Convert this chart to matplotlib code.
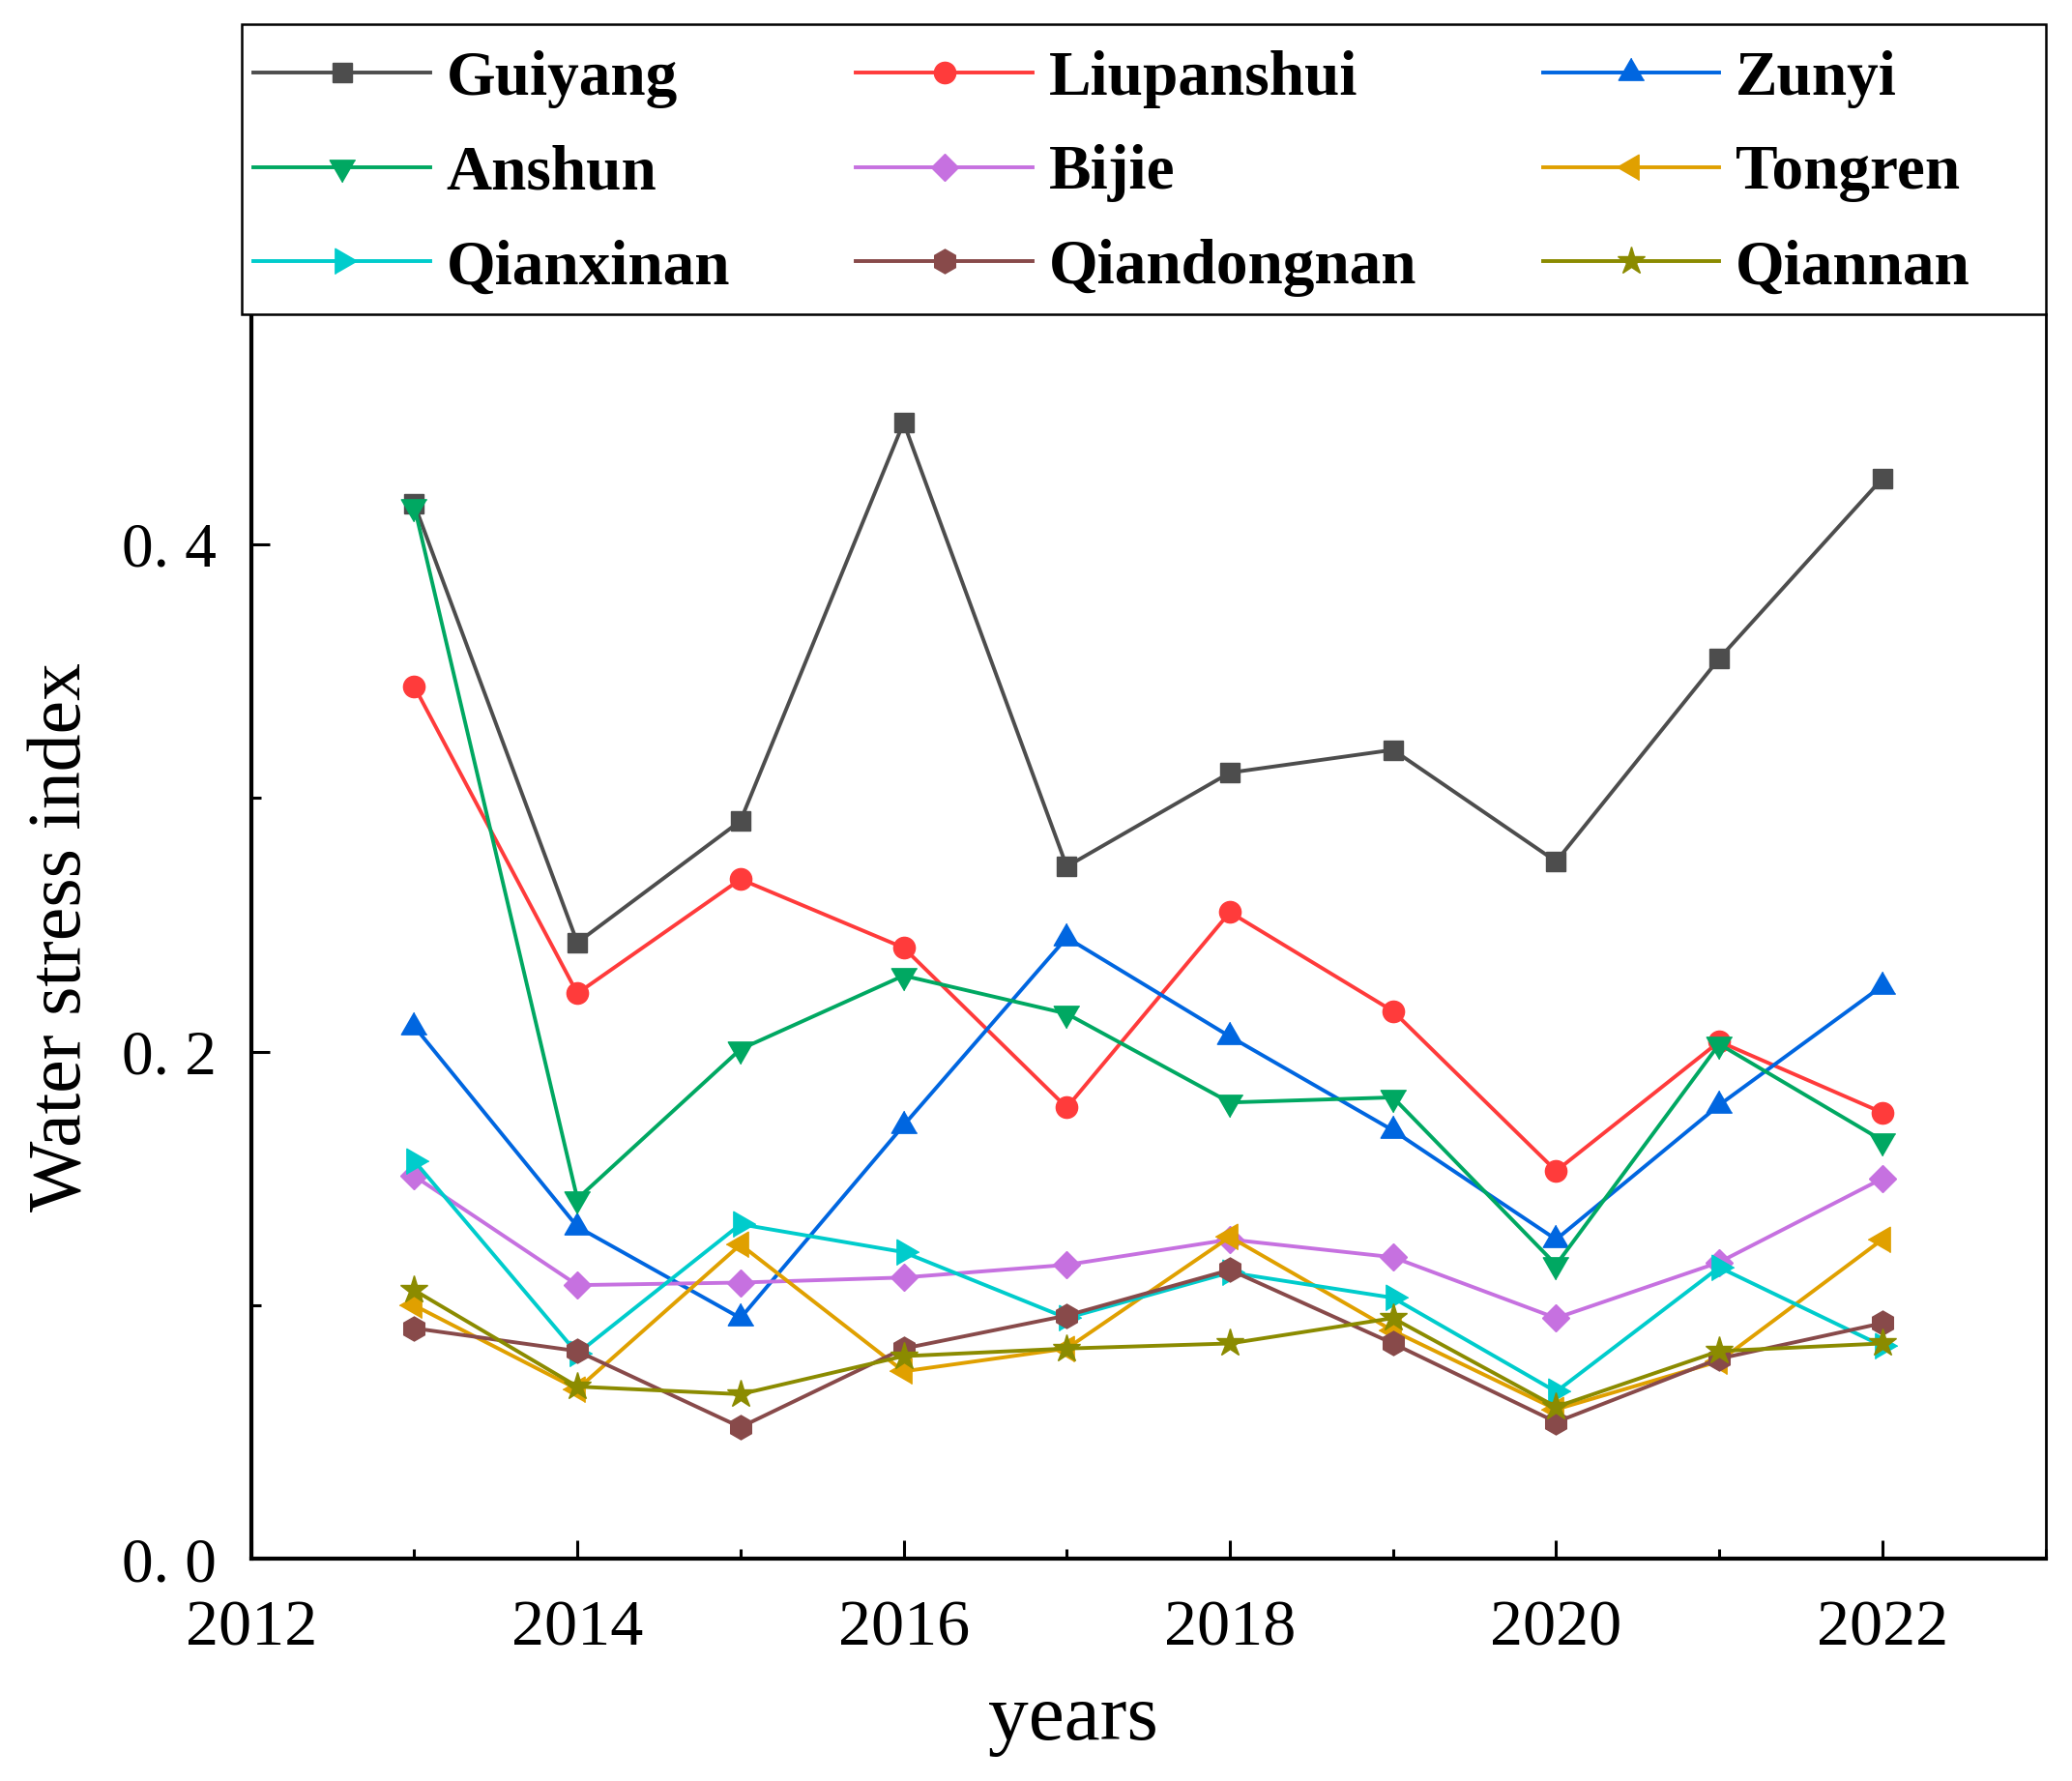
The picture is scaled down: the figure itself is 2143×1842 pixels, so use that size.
import numpy as np
import matplotlib
matplotlib.use("Agg")
import matplotlib.pyplot as plt
from matplotlib.ticker import MultipleLocator
from matplotlib.patches import Rectangle

plt.rcParams['font.family'] = ['Liberation Serif', 'DejaVu Serif']

# data
years = [2013, 2014, 2015, 2016, 2017, 2018, 2019, 2020, 2021, 2022]
guiyang = [0.416, 0.243, 0.291, 0.448, 0.273, 0.310, 0.319, 0.275, 0.355, 0.426]
liupanshui = [0.344, 0.223, 0.268, 0.241, 0.178, 0.255, 0.216, 0.153, 0.204, 0.176]
zunyi = [0.210, 0.131, 0.095, 0.171, 0.245, 0.206, 0.169, 0.126, 0.179, 0.226]
anshun = [0.415, 0.142, 0.201, 0.230, 0.215, 0.180, 0.182, 0.116, 0.203, 0.165]
bijie = [0.151, 0.108, 0.109, 0.111, 0.116, 0.126, 0.119, 0.095, 0.117, 0.150]
tongren = [0.100, 0.067, 0.124, 0.074, 0.083, 0.127, 0.090, 0.059, 0.078, 0.126]
qianxinan = [0.157, 0.081, 0.132, 0.121, 0.095, 0.113, 0.103, 0.066, 0.115, 0.084]
qiandongnan = [0.091, 0.082, 0.052, 0.083, 0.096, 0.114, 0.085, 0.054, 0.079, 0.093]
qiannan = [0.106, 0.068, 0.065, 0.080, 0.083, 0.085, 0.095, 0.060, 0.082, 0.085]

# equilateral triangles like the original software draws
tri_up = [(0, 0.577), (-0.5, -0.289), (0.5, -0.289)]
tri_down = [(0, -0.577), (-0.5, 0.289), (0.5, 0.289)]
tri_left = [(-0.577, 0), (0.289, 0.5), (0.289, -0.5)]
tri_right = [(0.577, 0), (-0.289, 0.5), (-0.289, -0.5)]

series = [
    ('Guiyang', guiyang, '#4d4d4d', 's', 14),
    ('Liupanshui', liupanshui, '#ff3b3b', 'o', 16),
    ('Zunyi', zunyi, '#0066e0', tri_up, 22),
    ('Anshun', anshun, '#00a862', tri_down, 22),
    ('Bijie', bijie, '#c671e0', 'D', 14),
    ('Tongren', tongren, '#e0a000', tri_left, 22),
    ('Qianxinan', qianxinan, '#00cccc', tri_right, 22),
    ('Qiandongnan', qiandongnan, '#884a4a', 'h', 18),
    ('Qiannan', qiannan, '#8b8b00', '*', 21),
]

fig = plt.figure(figsize=(21.43, 18.42), dpi=100)
ax = fig.add_axes([0.1212, 0.1246, 0.866, 0.6988])

handles = []
for name, vals, col, mk, ms in series:
    ln, = ax.plot(years, vals, color=col, marker=mk, markersize=ms, linewidth=2.8, label=name)
    handles.append(ln)

ax.set_xlim(2012, 2023)
ax.set_ylim(0, 0.4906)
ax.xaxis.set_major_locator(MultipleLocator(2))
ax.xaxis.set_minor_locator(MultipleLocator(1))
ax.set_yticks([0.0, 0.2, 0.4])
ax.set_yticklabels(['0. 0', '0. 2', '0. 4'])
ax.yaxis.set_minor_locator(MultipleLocator(0.1))
ax.tick_params(which='both', direction='in', width=2.2)
ax.tick_params(axis='x', which='major', length=14, pad=30, labelsize=49)
ax.tick_params(axis='y', which='major', length=14, pad=26, labelsize=47)
ax.tick_params(which='minor', length=7)
for s in ['left', 'bottom']:
    ax.spines[s].set_linewidth(3)
ax.spines['right'].set_linewidth(2)
ax.spines['top'].set_visible(False)

ax.set_xlabel('years', fontsize=60)
ax.xaxis.set_label_coords(0.458, -0.10)
ax.set_ylabel('Water stress index', fontsize=56, labelpad=18)

# legend frame drawn separately so the columns can be placed freely
fig.patches.append(Rectangle((0.1167, 0.8234), 0.8705, 0.1632, transform=fig.transFigure,
                             facecolor='white', edgecolor='black', linewidth=1.8, zorder=5))

# row-major legend order (matplotlib fills columns first)
order = [0, 3, 6, 1, 4, 7, 2, 5, 8]
leg = fig.legend([handles[i] for i in order], [series[i][0] for i in order],
                 loc='upper left', bbox_to_anchor=(0.1224, 0.972), ncol=3,
                 borderaxespad=0, borderpad=0, frameon=False,
                 prop={'weight': 'bold', 'size': 47}, handlelength=2.8,
                 handletextpad=0.25, labelspacing=0.58, columnspacing=2.0)
leg.set_zorder(6)

fig.savefig('out.png', dpi=100)
